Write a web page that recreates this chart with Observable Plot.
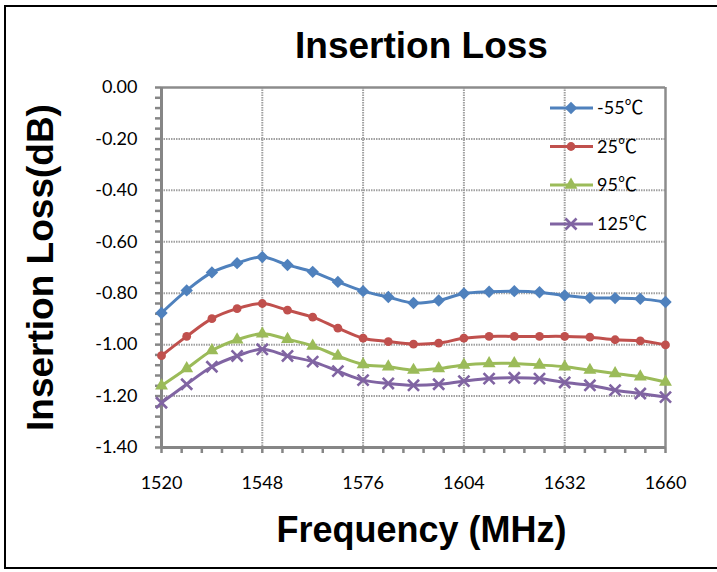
<!DOCTYPE html>
<html><head><meta charset="utf-8">
<script src="https://cdn.jsdelivr.net/npm/d3@7"></script>
<script src="https://cdn.jsdelivr.net/npm/@observablehq/plot@0.6"></script>
<style>
html,body{margin:0;padding:0;background:#fff;overflow:hidden}
#wrap{position:relative;width:717px;height:572px;overflow:hidden;background:#fff}
#border{position:absolute;left:4px;top:5px;width:740px;height:564px;border:2px solid #000;box-sizing:border-box;pointer-events:none}
#chart{position:absolute;left:0;top:0}
</style></head><body>
<div id="wrap"><div id="chart"></div><div id="border"></div></div>
<script>
// ---- data ----
const freqs = [1520,1527,1534,1541,1548,1555,1562,1569,1576,1583,1590,1597,1604,1611,1618,1625,1632,1639,1646,1653,1660];
const lossM55 = [-0.877,-0.789,-0.719,-0.683,-0.659,-0.690,-0.717,-0.756,-0.792,-0.815,-0.838,-0.828,-0.801,-0.794,-0.792,-0.796,-0.809,-0.818,-0.819,-0.822,-0.834];
const loss25  = [-1.043,-0.968,-0.899,-0.860,-0.840,-0.866,-0.893,-0.936,-0.975,-0.988,-0.998,-0.994,-0.975,-0.968,-0.968,-0.968,-0.968,-0.971,-0.981,-0.985,-1.001];
const loss95  = [-1.160,-1.093,-1.023,-0.981,-0.958,-0.979,-1.005,-1.044,-1.077,-1.086,-1.099,-1.093,-1.079,-1.073,-1.073,-1.079,-1.086,-1.099,-1.112,-1.125,-1.145];
const loss125 = [-1.226,-1.154,-1.086,-1.044,-1.018,-1.044,-1.066,-1.103,-1.138,-1.151,-1.158,-1.154,-1.142,-1.132,-1.129,-1.132,-1.147,-1.158,-1.177,-1.190,-1.204];
const seriesTemps = ["-55", "25", "95", "125"];
const unitLabel = "\u2103";
const seriesColors = ["#4F81BD", "#C0504D", "#9BBB59", "#8064A2"];
const xTicks = [1520, 1548, 1576, 1604, 1632, 1660];
const yTicks = [0, -0.2, -0.4, -0.6, -0.8, -1.0, -1.2, -1.4];
const chartTitle = "Insertion Loss";
const xTitle = "Frequency (MHz)";
const yTitle = "Insertion Loss(dB)";

// ---- build ----
const seriesNames = seriesTemps.map(t => t + unitLabel);
const seriesValues = [lossM55, loss25, loss95, loss125];
const rows = [];
seriesNames.forEach((s, i) => freqs.forEach((f, j) => rows.push({series: s, freq: f, loss: seriesValues[i][j]})));
const symbolSpec = [
  {symbol: "diamond2", r: 5.6, filled: true},
  {symbol: "circle", r: 4.4, filled: true},
  {symbol: "triangle", r: 4.8, filled: true},
  {symbol: "times", r: 5.1, filled: false}
];
const xMinor = d3.range(0, 26).map(i => 1520 + i * 5.6);
const yMinor = d3.range(0, 36).map(i => -i * 0.04);
const xGrid = xTicks.slice(1, -1);
const yGrid = yTicks.slice(1, -1);
const gridStyle = {stroke: "#a0a0a0", strokeWidth: 2, strokeDasharray: "1.5,1"};
const axisColor = "#868686";
const boldFont = "'Liberation Sans', Arial, sans-serif";

const marks = [
  Plot.ruleY(yGrid, gridStyle),
  Plot.ruleX(xGrid, gridStyle),
  Plot.ruleY([0], {stroke: "#8c8c8c", strokeWidth: 2.5}),
  Plot.ruleX([1660], {stroke: "#8c8c8c", strokeWidth: 2.5}),
  Plot.axisY(yMinor, {tickSize: 6, tickFormat: () => "", stroke: axisColor, strokeWidth: 2.5, label: null}),
  Plot.axisX(xMinor, {tickSize: 6, tickFormat: () => "", stroke: axisColor, strokeWidth: 2.5, label: null}),
  Plot.axisY(yTicks, {tickSize: 0, tickPadding: 24, tickFormat: d => (Math.round(d * 100) / 100).toFixed(2), fontSize: 18, label: null}),
  Plot.axisX(xTicks, {tickSize: 0, tickPadding: 29, tickFormat: d => String(d), fontSize: 18, label: null}),
  Plot.ruleX([1520], {stroke: axisColor, strokeWidth: 3}),
  Plot.ruleY([-1.4], {stroke: axisColor, strokeWidth: 3}),
  Plot.line(rows, {x: "freq", y: "loss", z: "series", stroke: d => seriesColors[seriesNames.indexOf(d.series)], strokeWidth: 3, curve: "catmull-rom"})
];
seriesNames.forEach((s, i) => {
  const sp = symbolSpec[i];
  const data = rows.filter(d => d.series === s);
  marks.push(Plot.dot(data, sp.filled
    ? {x: "freq", y: "loss", symbol: sp.symbol, r: sp.r, fill: seriesColors[i], stroke: "none"}
    : {x: "freq", y: "loss", symbol: sp.symbol, r: sp.r, fill: "none", stroke: seriesColors[i], strokeWidth: 2.6}));
});
marks.push(
  Plot.text([chartTitle], {text: d => d, frameAnchor: "top", lineAnchor: "middle", textAnchor: "middle", dx: 8, dy: -41, fontSize: 37, fontWeight: "bold", fontFamily: boldFont, fill: "#000"}),
  Plot.text([xTitle], {text: d => d, frameAnchor: "bottom", lineAnchor: "middle", textAnchor: "middle", dx: 8, dy: 83, fontSize: 36, fontWeight: "bold", fontFamily: boldFont, fill: "#000"}),
  Plot.text([yTitle], {text: d => d, frameAnchor: "left", lineAnchor: "middle", textAnchor: "middle", rotate: -90, dx: -120, dy: 0, fontSize: 37, fontWeight: "bold", fontFamily: boldFont, fill: "#000"})
);

const chart = Plot.plot({
  width: 717, height: 572,
  marginTop: 87, marginBottom: 125, marginLeft: 161, marginRight: 52,
  style: {fontFamily: "Lato, sans-serif", fontSize: "18px", color: "#000", background: "transparent", overflow: "visible"},
  x: {domain: [1520, 1660], label: null},
  y: {domain: [-1.4, 0], label: null},
  marks
});
document.getElementById("chart").appendChild(chart);

// ---- legend (inside plot area, top right) ----
const svg = d3.select(chart);
const lg = svg.append("g").attr("font-family", "Lato, sans-serif").attr("font-size", 18).attr("text-anchor", "start");
const legendRowsY = [108, 146.5, 185, 224];
const d3Symbols = {diamond2: d3.symbolDiamond2, circle: d3.symbolCircle, triangle: d3.symbolTriangle, times: d3.symbolTimes};
seriesTemps.forEach((t, i) => {
  const y = legendRowsY[i];
  const sp = symbolSpec[i];
  lg.append("line").attr("x1", 550).attr("x2", 593).attr("y1", y).attr("y2", y)
    .attr("stroke", seriesColors[i]).attr("stroke-width", 3);
  const path = d3.symbol(d3Symbols[sp.symbol], sp.r * sp.r * Math.PI)();
  const p = lg.append("path").attr("d", path).attr("transform", `translate(571,${y})`);
  if (sp.filled) p.attr("fill", seriesColors[i]);
  else p.attr("fill", "none").attr("stroke", seriesColors[i]).attr("stroke-width", 2.6);
  const tx = lg.append("text").attr("x", 597).attr("y", y).attr("dy", "0.35em").attr("fill", "#000");
  tx.append("tspan").text(t);
  tx.append("tspan").attr("font-family", "'Noto Sans CJK SC', sans-serif").attr("font-size", 19).text(unitLabel);
});
</script></body></html>
